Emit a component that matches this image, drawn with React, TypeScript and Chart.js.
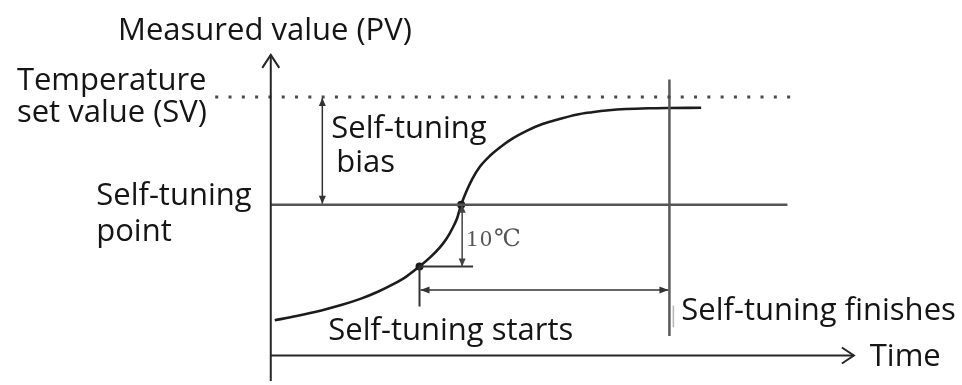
import React, { useEffect, useRef } from "react";
import { Chart, registerables } from "chart.js";

Chart.register(...registerables);

// Diagram coordinates: time (horizontal) and measured value (vertical),
// origin at the crossing of the two axes.
const T_MIN = -269;
const T_MAX = 693;
const V_MIN = -26;
const V_MAX = 359;

// Measured value (PV) response curve
const curveTime = [4, 26, 51, 71, 91, 108, 124, 137, 150, 161, 171, 177, 183, 188, 192, 197, 203, 211, 221, 231, 244, 258, 274, 291, 308, 324, 341, 358, 381, 401, 434];
const curvePV = [36, 40.4, 46.1, 51.5, 58.1, 65.1, 73.1, 80.9, 91, 100.5, 111, 119, 129.5, 140.5, 154, 167, 180, 193, 204, 212.5, 221.7, 229.5, 236.4, 241.5, 246, 248.5, 250.5, 251.7, 252.5, 252.8, 253];

// Key levels / times
const svLevel = 264; // temperature set value
const svLineRange = [-56, 529];
const tuningPointLevel = 154; // self-tuning point
const tuningPointLineRange = [0, 521];
const tuningStart = [150, 91]; // [time, value]
const tuningPoint = [192, 154];
const tuningFinishTime = 402;
const finishLineRange = [282, 20];
const startMarkerRange = [91, 50];
const durationLevel = 67;
const biasArrowTime = 52;
const deltaArrowTime = 193;
const deltaLineEnd = 204;
const yAxisRange = [-26, 307];
const xAxisRange = [0, 588];
const faintTick = [406, 51, 29];

// Labels
const labelTexts = [
  "Measured value (PV)",
  "Temperature",
  "set value (SV)",
  "Self-tuning",
  "bias",
  "Self-tuning",
  "point",
  "Self-tuning starts",
  "Self-tuning finishes",
  "Time",
  "10℃",
];
const labelTimes = [-154, -256, -256, 61, 66, -176, -176, 58, 414, 604, 197];
const labelValues = [322, 271, 238, 222, 187, 154, 117, 16, 36, -11, 112];

const SANS = "'Open Sans', 'Noto Sans', sans-serif";
const SERIF = "'Liberation Serif', 'DejaVu Serif', 'Noto Sans CJK SC', serif";

const seg = (x1: number, y1: number, x2: number, y2: number) => [
  { x: x1, y: y1 },
  { x: x2, y: y2 },
];

const arrowPlugin = {
  id: "arrowHeads",
  afterDatasetsDraw(chart: any) {
    const ctx = chart.ctx;
    chart.data.datasets.forEach((ds: any, i: number) => {
      if (!ds.heads) return;
      const pts = chart.getDatasetMeta(i).data;
      if (pts.length < 2) return;
      const h = ds.heads;
      const draw = (tip: any, from: any) => {
        const dx = tip.x - from.x;
        const dy = tip.y - from.y;
        const len = Math.hypot(dx, dy) || 1;
        const ux = dx / len;
        const uy = dy / len;
        const bx = tip.x - ux * h.length;
        const by = tip.y - uy * h.length;
        const px = -uy;
        const py = ux;
        ctx.save();
        ctx.strokeStyle = ds.borderColor;
        ctx.fillStyle = ds.borderColor;
        ctx.lineWidth = ds.borderWidth;
        ctx.lineJoin = "miter";
        ctx.beginPath();
        ctx.moveTo(bx + px * h.half, by + py * h.half);
        ctx.lineTo(tip.x, tip.y);
        ctx.lineTo(bx - px * h.half, by - py * h.half);
        if (h.filled) {
          ctx.closePath();
          ctx.fill();
        } else {
          ctx.stroke();
        }
        ctx.restore();
      };
      if (h.start) draw(pts[0], pts[1]);
      if (h.end) draw(pts[pts.length - 1], pts[pts.length - 2]);
    });
  },
};

const labelPlugin = {
  id: "diagramLabels",
  afterDatasetsDraw(chart: any) {
    const ctx = chart.ctx;
    const xs = chart.scales.x;
    const ys = chart.scales.y;
    ctx.save();
    ctx.textAlign = "left";
    ctx.textBaseline = "alphabetic";
    labelTexts.forEach((t, i) => {
      const isDelta = t === "10℃";
      ctx.font = isDelta ? `24px ${SERIF}` : `31px ${SANS}`;
      (ctx as any).letterSpacing = isDelta ? "2px" : "0px";
      ctx.fillStyle = isDelta ? "#555" : "#151515";
      ctx.fillText(t, xs.getPixelForValue(labelTimes[i]), ys.getPixelForValue(labelValues[i]));
    });
    (ctx as any).letterSpacing = "0px";
    ctx.restore();
  },
};

export default function App() {
  const ref = useRef<HTMLCanvasElement | null>(null);

  useEffect(() => {
    document.body.style.margin = "0";
    if (!ref.current) return;
    const line = (data: any[], color: string, width: number, extra: any = {}) => ({
      type: "line",
      data,
      borderColor: color,
      backgroundColor: color,
      borderWidth: width,
      pointRadius: 0,
      fill: false,
      clip: false,
      tension: 0,
      ...extra,
    });

    const curve = curveTime.map((t, i) => ({ x: t, y: curvePV[i] }));

    const chart = new Chart(ref.current, {
      type: "line",
      data: {
        datasets: [
          // axes
          line(seg(0, yAxisRange[0], 0, yAxisRange[1]), "#262626", 2, {
            heads: { end: true, length: 13, half: 8.5, filled: false },
          }),
          line(seg(xAxisRange[0], 0, xAxisRange[1], 0), "#262626", 2, {
            heads: { end: true, length: 12, half: 8, filled: false },
          }),
          // set value dotted line
          line(seg(svLineRange[0], svLevel, svLineRange[1], svLevel), "#4a4a4a", 3, {
            borderDash: [3, 10.3],
            borderCapStyle: "butt",
          }),
          // self-tuning point line
          line(seg(tuningPointLineRange[0], tuningPointLevel, tuningPointLineRange[1], tuningPointLevel), "#555", 2.5),
          // finish vertical line
          line(seg(tuningFinishTime, finishLineRange[0], tuningFinishTime, finishLineRange[1]), "#5a5a5a", 2.5),
          // faint tick
          line(seg(faintTick[0], faintTick[1], faintTick[0], faintTick[2]), "#b5b5b5", 1.5),
          // start marker
          line(seg(tuningStart[0], startMarkerRange[0], tuningStart[0], startMarkerRange[1]), "#333", 2),
          // duration double arrow
          line(seg(tuningStart[0] + 1, durationLevel, tuningFinishTime - 1, durationLevel), "#333", 1.5, {
            heads: { start: true, end: true, length: 9, half: 3.5, filled: true },
          }),
          // bias arrow
          line(seg(biasArrowTime, svLevel - 1, biasArrowTime, tuningPointLevel + 1), "#333", 1.5, {
            heads: { start: true, end: true, length: 8, half: 3.5, filled: true },
          }),
          // 10 degree arrow
          line(seg(deltaArrowTime, tuningPoint[1], deltaArrowTime, tuningStart[1]), "#444", 1.5, {
            heads: { start: true, end: true, length: 8, half: 3.5, filled: true },
          }),
          // short horizontal at start level
          line(seg(tuningStart[0], tuningStart[1], deltaLineEnd, tuningStart[1]), "#333", 2),
          // PV curve
          line(curve, "#1c1c1c", 2.6, { cubicInterpolationMode: "monotone" }),
          // dots
          {
            type: "scatter",
            data: [
              { x: tuningStart[0], y: tuningStart[1] },
              { x: tuningPoint[0], y: tuningPoint[1] },
            ],
            pointRadius: 4,
            pointBackgroundColor: "#1a1a1a",
            pointBorderWidth: 0,
            showLine: false,
            clip: false,
          },
        ] as any,
      },
      options: {
        responsive: false,
        animation: false,
        events: [],
        layout: { padding: 0 },
        scales: {
          x: { type: "linear", min: T_MIN, max: T_MAX, display: false },
          y: { type: "linear", min: V_MIN, max: V_MAX, display: false },
        },
        plugins: {
          legend: { display: false },
          tooltip: { enabled: false },
        },
      },
      plugins: [arrowPlugin, labelPlugin],
    } as any);
    return () => chart.destroy();
  }, []);

  return (
    <div style={{ position: "absolute", left: 0, top: 0, width: 962, height: 385, background: "#fff" }}>
      <canvas ref={ref} width={962} height={385} style={{ display: "block" }} />
    </div>
  );
}
